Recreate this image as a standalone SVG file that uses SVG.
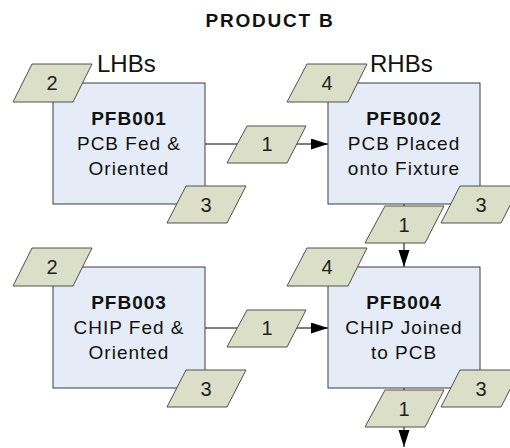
<svg xmlns="http://www.w3.org/2000/svg" width="510" height="448" viewBox="0 0 510 448">
<style>
.box{fill:#e6ecf7;stroke:#3c3c3c;stroke-width:1}
.par{fill:#dcdfc8;stroke:#505050;stroke-width:1}
.t{font-family:"Liberation Sans",Arial,sans-serif;font-size:19px;fill:#111;text-anchor:middle;letter-spacing:1px}
.b{font-weight:bold}
.n{font-family:"Liberation Sans",Arial,sans-serif;font-size:20px;fill:#222;text-anchor:middle}
.side{font-family:"Liberation Sans",Arial,sans-serif;font-size:24px;fill:#111}
.title{font-family:"Liberation Sans",Arial,sans-serif;font-size:19px;font-weight:bold;fill:#111;text-anchor:middle;letter-spacing:1.8px}
.ln{stroke:#000;stroke-width:1;fill:none}
</style>
<defs>
<marker id="arr" markerWidth="18" markerHeight="12" refX="17" refY="5.5" orient="auto" markerUnits="userSpaceOnUse">
<path d="M0,0 L17,5.5 L0,11 Z" fill="#000"/>
</marker>
</defs>
<text class="title" x="270" y="27">PRODUCT B</text>
<text class="side" x="97" y="72">LHBs</text>
<text class="side" x="370" y="72">RHBs</text>

<g id="connectors">
<line class="ln" x1="205" y1="144" x2="328" y2="144" marker-end="url(#arr)"/>
<line class="ln" x1="205" y1="328" x2="328" y2="328" marker-end="url(#arr)"/>
<line class="ln" x1="404" y1="204" x2="404" y2="267" marker-end="url(#arr)"/>
<line class="ln" x1="404" y1="388" x2="404" y2="447" marker-end="url(#arr)"/>
</g>

<g id="PFB001">
<rect class="box" x="53" y="83" width="152" height="121"/>
<text class="t b" x="129" y="125">PFB001</text>
<text class="t" x="129" y="150">PCB Fed &amp;</text>
<text class="t" x="129" y="175">Oriented</text>
</g>
<g id="PFB002">
<rect class="box" x="328" y="83" width="152" height="121"/>
<text class="t b" x="404" y="125">PFB002</text>
<text class="t" x="404" y="150">PCB Placed</text>
<text class="t" x="404" y="175">onto Fixture</text>
</g>
<g id="PFB003">
<rect class="box" x="53" y="267" width="152" height="121"/>
<text class="t b" x="129" y="309">PFB003</text>
<text class="t" x="129" y="334">CHIP Fed &amp;</text>
<text class="t" x="129" y="359">Oriented</text>
</g>
<g id="PFB004">
<rect class="box" x="328" y="267" width="152" height="121"/>
<text class="t b" x="404" y="309">PFB004</text>
<text class="t" x="404" y="334">CHIP Joined</text>
<text class="t" x="404" y="359">to PCB</text>
</g>

<g id="in2-a"><polygon class="par" points="32,64 92,64 73,102 13,102"/><text class="n" x="52" y="90">2</text></g>
<g id="in4-a"><polygon class="par" points="307,64 367,64 348,102 287,102"/><text class="n" x="327" y="90">4</text></g>
<g id="out3-a"><polygon class="par" points="186,186 246,186 227,223 167,223"/><text class="n" x="206" y="212">3</text></g>
<g id="link1-a"><polygon class="par" points="247,126 306,126 287,163 227,163"/><text class="n" x="267" y="151">1</text></g>
<g id="out3-b"><polygon class="par" points="460,186 520,186 501,223 441,223"/><text class="n" x="481" y="212">3</text></g>
<g id="out1-b"><polygon class="par" points="385,206 444,206 425,243 365,243"/><text class="n" x="404" y="232">1</text></g>

<g id="in2-c"><polygon class="par" points="32,248 92,248 73,286 13,286"/><text class="n" x="52" y="274">2</text></g>
<g id="in4-d"><polygon class="par" points="307,248 367,248 348,286 287,286"/><text class="n" x="327" y="274">4</text></g>
<g id="out3-c"><polygon class="par" points="186,370 246,370 227,407 167,407"/><text class="n" x="206" y="396">3</text></g>
<g id="link1-c"><polygon class="par" points="247,310 306,310 287,347 227,347"/><text class="n" x="267" y="335">1</text></g>
<g id="out3-d"><polygon class="par" points="460,370 520,370 501,407 441,407"/><text class="n" x="481" y="396">3</text></g>
<g id="out1-d"><polygon class="par" points="385,390 444,390 425,427 365,427"/><text class="n" x="404" y="416">1</text></g>
</svg>
